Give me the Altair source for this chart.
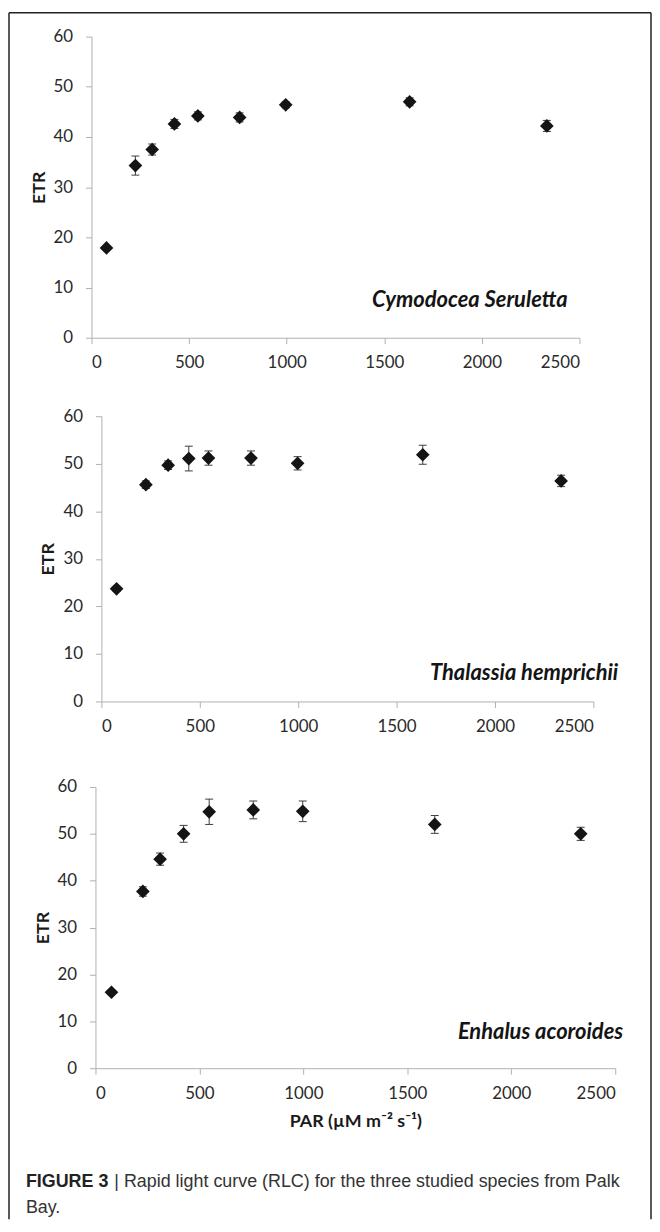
import altair as alt
import pandas as pd

FONT = "Lato"

species = ["Cymodocea Seruletta", "Thalassia hemprichii", "Enhalus acoroides"]

par_1 = [77, 225, 311, 425, 545, 759, 995, 1630, 2333]
etr_1 = [17.9, 34.3, 37.5, 42.6, 44.2, 43.9, 46.4, 47.0, 42.2]
err_1 = [0.3, 1.9, 1.1, 0.9, 0.8, 0.9, 0.6, 0.8, 1.1]

par_2 = [77, 226, 339, 444, 544, 760, 997, 1633, 2336]
etr_2 = [23.7, 45.6, 49.7, 51.1, 51.2, 51.2, 50.1, 51.9, 46.4]
err_2 = [0.5, 0.8, 0.9, 2.6, 1.5, 1.5, 1.4, 2.0, 1.2]

par_3 = [77, 228, 311, 424, 547, 759, 997, 1632, 2334]
etr_3 = [16.2, 37.7, 44.6, 50.0, 54.7, 55.1, 54.8, 52.0, 50.0]
err_3 = [0.5, 1.0, 1.3, 1.8, 2.7, 1.9, 2.2, 1.9, 1.4]

x_ticks = [0, 500, 1000, 1500, 2000, 2500]
y_ticks = [0, 10, 20, 30, 40, 50, 60]

x_title = "PAR  (µM m⁻² s⁻¹)"
y_title = "ETR"
caption_bold = "FIGURE 3"
caption_line1 = "| Rapid light curve (RLC) for the three studied species from Palk"
caption_line2 = "Bay."

AXIS_GRAY = "#b0b0b0"
LABEL_COL = "#2a2a2a"


def make_axes(show_x_title, shift):
    xaxis = alt.Axis(
        values=x_ticks, format="d", grid=False,
        domainColor=AXIS_GRAY, tickColor=AXIS_GRAY, tickSize=6,
        labelFont=FONT, labelFontSize=17, labelColor=LABEL_COL, labelPadding=11,
        title=x_title if show_x_title else None,
        titleFont=FONT, titleFontSize=18, titleFontWeight="bold", titleColor="#1a1a1a",
        titlePadding=12,
    )
    yaxis = alt.Axis(
        values=y_ticks, format="d", grid=False, offset=-shift,
        domainColor=AXIS_GRAY, tickColor=AXIS_GRAY, tickSize=6,
        labelFont=FONT, labelFontSize=17, labelColor=LABEL_COL, labelPadding=13,
        title=y_title, titleFont=FONT, titleFontSize=18, titleFontWeight="bold",
        titleColor="#1a1a1a", titlePadding=5,
    )
    return xaxis, yaxis


def panel(par, etr, err, label, shift, plot_w, height, label_x, label_y, show_x_title, extra):
    df = pd.DataFrame({
        "PAR": par,
        "ETR": etr,
        "lo": [v - e for v, e in zip(etr, err)],
        "hi": [v + e for v, e in zip(etr, err)],
    })
    xs = alt.Scale(domain=[0, 2500], nice=False, range=[shift, shift + plot_w])
    ys = alt.Scale(domain=[0, 60], nice=False)
    xaxis, yaxis = make_axes(show_x_title, shift)
    base = alt.Chart(df)

    bars = base.mark_rule(color="#3c3c3c", strokeWidth=1).encode(
        x=alt.X("PAR:Q", scale=xs, axis=xaxis),
        y=alt.Y("lo:Q", scale=ys, axis=yaxis),
        y2="hi:Q",
    )
    cap_lo = base.mark_rule(color="#3c3c3c", strokeWidth=1, xOffset=-4, x2Offset=4).encode(
        x=alt.X("PAR:Q", scale=xs, axis=xaxis),
        x2="PAR:Q",
        y=alt.Y("lo:Q", scale=ys, axis=yaxis),
    )
    cap_hi = base.mark_rule(color="#3c3c3c", strokeWidth=1, xOffset=-4, x2Offset=4).encode(
        x=alt.X("PAR:Q", scale=xs, axis=xaxis),
        x2="PAR:Q",
        y=alt.Y("hi:Q", scale=ys, axis=yaxis),
    )
    pts = base.mark_point(shape="diamond", filled=True, size=190, color="#141414", opacity=1).encode(
        x=alt.X("PAR:Q", scale=xs, axis=xaxis),
        y=alt.Y("ETR:Q", scale=ys, axis=yaxis),
    )
    txt = alt.Chart(pd.DataFrame({"t": [label]})).mark_text(
        font=FONT, fontSize=22, fontStyle="italic", fontWeight="bold",
        align="right", baseline="middle", color="#141414",
    ).encode(x=alt.value(shift + label_x), y=alt.value(label_y), text="t:N")
    layers = [bars, cap_lo, cap_hi, pts, txt] + extra
    return alt.layer(*layers).properties(width=shift + plot_w, height=height)


one = pd.DataFrame({"a": [0]})

# outer frame of the figure (drawn relative to panel 1's plot area)
frame = [
    alt.Chart(one).mark_rule(color="#222222", strokeWidth=1.5).encode(
        x=alt.value(-83), y=alt.value(-24), y2=alt.value(1190)),
    alt.Chart(one).mark_rule(color="#222222", strokeWidth=1.5).encode(
        x=alt.value(563), y=alt.value(-24), y2=alt.value(1190)),
    alt.Chart(one).mark_rule(color="#222222", strokeWidth=1.5).encode(
        x=alt.value(-83), x2=alt.value(563), y=alt.value(-24)),
]

caption = [
    alt.Chart(pd.DataFrame({"t": [caption_bold]})).mark_text(
        font="Liberation Sans", fontSize=18, fontWeight="bold",
        align="left", baseline="middle", color="#222222").encode(
        x=alt.value(-66), y=alt.value(398), text="t:N"),
    alt.Chart(pd.DataFrame({"t": [caption_line1]})).mark_text(
        font="Liberation Sans", fontSize=18,
        align="left", baseline="middle", color="#333333").encode(
        x=alt.value(23), y=alt.value(398), text="t:N"),
    alt.Chart(pd.DataFrame({"t": [caption_line2]})).mark_text(
        font="Liberation Sans", fontSize=18,
        align="left", baseline="middle", color="#333333").encode(
        x=alt.value(-66), y=alt.value(424), text="t:N"),
]

p1 = panel(par_1, etr_1, err_1, species[0], 0, 491, 303, 479, 265, False, frame)
p2 = panel(par_2, etr_2, err_2, species[1], 10, 495, 287, 520, 258, False, [])
p3 = panel(par_3, etr_3, err_3, species[2], 4, 523, 283, 531, 247, True, caption)


def gap(h):
    return alt.Chart(one).mark_point(opacity=0).encode(
        x=alt.value(0), y=alt.value(0)).properties(width=10, height=h)


chart = alt.vconcat(p1, gap(79), p2, gap(86), p3, spacing=0, bounds="flush", padding=0).configure(
    background="white",
    view=alt.ViewConfig(strokeWidth=0, strokeOpacity=0),
)

chart.save("out.html", embed_options={"renderer": "svg", "actions": False})
